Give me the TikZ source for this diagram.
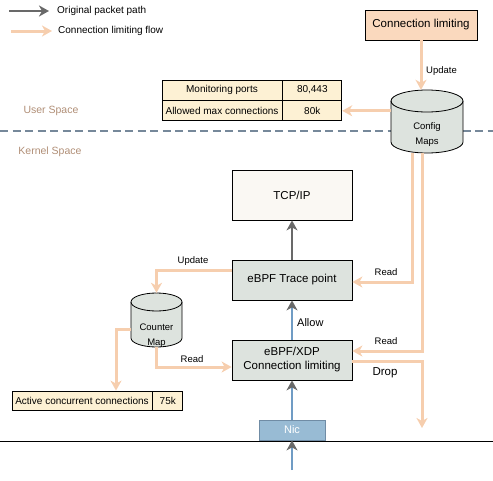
\documentclass[tikz,border=0pt]{standalone}
\usepackage{fontspec}
\setmainfont{Liberation Sans}
\usetikzlibrary{arrows.meta,positioning}

\definecolor{flow}{RGB}{246,206,174}
\definecolor{packet}{RGB}{105,105,105}
\definecolor{wire}{RGB}{112,156,196}
\definecolor{peach}{RGB}{250,217,190}
\definecolor{cream}{RGB}{253,241,212}
\definecolor{sage}{RGB}{221,227,222}
\definecolor{paper}{RGB}{250,248,243}
\definecolor{nicblue}{RGB}{152,187,212}
\definecolor{nicedge}{RGB}{112,140,165}
\definecolor{divider}{RGB}{118,136,154}
\definecolor{spacetext}{RGB}{176,142,118}

\begin{document}
\begin{tikzpicture}[x=1pt,y=-1pt,
  every node/.style={inner sep=0pt},
  box/.style={draw=black,line width=0.8pt,minimum width=120pt,align=center,font=\fontsize{11.5}{14}\selectfont},
  cell/.style={draw=black,line width=0.8pt,fill=cream,font=\fontsize{10}{12}\selectfont},
  store/.style={draw=black,line width=0.8pt,fill=sage},
  storetext/.style={align=center,font=\fontsize{9.5}{15}\selectfont},
  tag/.style={font=\fontsize{9.5}{11}\selectfont},
  spacetag/.style={text=spacetext,font=\fontsize{10.5}{12}\selectfont},
  flowline/.style={flow,line width=3pt,-{Stealth[length=10pt,width=11pt,inset=3pt]}},
  pktline/.style={packet,line width=2.5pt,-{Stealth[length=10pt,width=11pt,inset=3pt]}},
  wireline/.style={wire,line width=2pt,-{Stealth[length=10pt,width=11pt,inset=3pt,color=packet]}}]

\useasboundingbox (0,0) rectangle (493,480);

\node[anchor=west,font=\fontsize{10}{12}\selectfont] (legpkt) at (57,11) {Original packet path};
\node[anchor=west,font=\fontsize{10}{12}\selectfont] (legflow) at (58,31) {Connection limiting flow};
\coordinate (legpkta) at (9,11);
\coordinate (legflowa) at (11,31);
\draw[pktline,line width=2pt] (legpkta) -- ([xshift=-8pt]legpkt.west);
\draw[flowline] (legflowa) -- ([xshift=-6pt]legflow.west);

\draw[divider,line width=2pt,dash pattern=on 8pt off 4.5pt] (0,131) -- (493,131);
\node[spacetag] (user) at (51,111) {User Space};
\node[spacetag] (kernel) at (50,152) {Kernel Space};

\node[box,fill=peach,minimum width=112pt,minimum height=30pt] (climit) at (421,25) {Connection limiting};

\node[minimum width=72pt,minimum height=63pt] (cfg) at (427,121.5) {};
\path[store] (391,101) -- (391,142) arc[start angle=180,end angle=0,x radius=36,y radius=11]
  -- (463,101) arc[start angle=0,end angle=-180,x radius=36,y radius=11] -- cycle;
\draw[line width=0.8pt] (391,101) arc[start angle=180,end angle=0,x radius=36,y radius=11];
\node[storetext] (cfgtext) at (427,135) {Config\\Maps};

\node[cell,minimum width=120pt,minimum height=20pt] (portname) at (222,90) {Monitoring ports};
\node[cell,minimum width=59pt,minimum height=20pt,right=0pt of portname] (portval) {80,443};
\node[cell,minimum width=120pt,minimum height=20pt,below=0pt of portname] (maxname) {Allowed max connections};
\node[cell,minimum width=59pt,minimum height=20pt,right=0pt of maxname] (maxval) {80k};

\node[box,fill=paper,minimum height=50pt] (tcp) at (292,195) {TCP/IP};
\node[box,fill=sage,minimum height=40pt] (trace) at (292,280) {eBPF Trace point};
\node[box,fill=sage,minimum height=40pt] (xdp) at (292,360) {eBPF/XDP\\Connection limiting};
\node[draw=nicedge,fill=nicblue,line width=0.8pt,minimum width=66pt,minimum height=20pt,text=white,font=\fontsize{11}{13}\selectfont] (nic) at (292,430) {Nic};

\node[minimum width=51pt,minimum height=54pt] (cnt) at (156.5,320) {};
\path[store] (131,302) -- (131,338) arc[start angle=180,end angle=0,x radius=25.5,y radius=9]
  -- (182,302) arc[start angle=0,end angle=-180,x radius=25.5,y radius=9] -- cycle;
\draw[line width=0.8pt] (131,302) arc[start angle=180,end angle=0,x radius=25.5,y radius=9];
\node[storetext] (cnttext) at (156.5,335.5) {Counter\\Map};

\node[cell,minimum width=140pt,minimum height=19pt] (activename) at (82,400.5) {Active concurrent connections};
\node[cell,minimum width=30pt,minimum height=19pt,right=0pt of activename] (activeval) {75k};

\draw[flowline] (climit.south) -- (climit.south |- cfg.north);
\node[tag,anchor=west] (updcfg) at (426,71) {Update};
\draw[flowline] (cfg.west |- maxval.east) -- (maxval.east);
\draw[flowline] ([xshift=-15pt]cfg.south) |- ([yshift=-2pt]trace.east);
\node[tag] (readtrace) at (386,272) {Read};
\draw[flowline] ([xshift=-5pt]cfg.south) |- ([yshift=9pt]xdp.east);
\node[tag] (readxdp) at (386,341) {Read};
\coordinate (dropend) at (422,428);
\draw[flowline] ([yshift=-1pt]xdp.east) -| (dropend);
\node[font=\fontsize{11.5}{13}\selectfont] (drop) at (385,373) {Drop};
\draw[flowline] ([yshift=10pt]trace.west) -| (cnt.north);
\node[tag] (updcnt) at (193,261) {Update};
\draw[flowline] (cnt.south) |- ([yshift=-7pt]xdp.west);
\node[tag] (readcnt) at (192,359) {Read};
\draw[flowline] ([yshift=-9pt]cnt.west) -| ([xshift=34pt]activename.north);

\draw[line width=1pt] (0,441) -- (493,441);
\coordinate (wirein) at (292,470);
\draw[wireline] (wirein) -- (nic.south);
\draw[wireline] (nic.north) -- (xdp.south);
\draw[wireline] (xdp.north) -- (trace.south);
\node[anchor=west,font=\fontsize{11}{13}\selectfont] (allow) at (297,323) {Allow};
\draw[pktline] (trace.north) -- (tcp.south);

\end{tikzpicture}
\end{document}
